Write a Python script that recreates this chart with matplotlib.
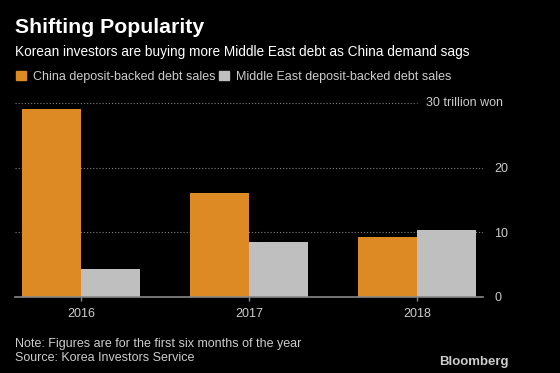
import numpy as np
import matplotlib.pyplot as plt

years = ['2016', '2017', '2018']
china = [29.0, 16.0, 9.2]
middle_east = [4.4, 8.5, 10.3]
yticks = [0, 10, 20, 30]
ytick_labels = ['0', '10', '20', '30 trillion won']

orange = '#dd8a24'
grey = '#bfbfbf'
txt = '#cccccc'

plt.rcParams['font.family'] = ['Liberation Sans', 'DejaVu Sans']

fig = plt.figure(figsize=(5.6, 3.73), dpi=100, facecolor='black')
ax = fig.add_axes([0.0268, 0.2038, 0.8357, 0.529], facecolor='black')

x = np.arange(len(years))
w = 0.352
ax.bar(x - w / 2, china, w, color=orange, zorder=2)
ax.bar(x + w / 2, middle_east, w, color=grey, zorder=2)

ax.set_xlim(-0.393, 2.393)
ax.set_ylim(0, 30.5)
ax.set_xticks(x)
ax.set_xticklabels(years)
ax.yaxis.tick_right()
ax.set_yticks(yticks)
# top label is right-aligned with the unit, placed separately
ax.set_yticklabels(ytick_labels[:-1] + [''])
ax.text(1.0427, yticks[-1], ytick_labels[-1], transform=ax.get_yaxis_transform(),
        ha='right', va='center', color=txt, fontsize=9)
ax.tick_params(axis='y', length=0, pad=8, labelsize=9)
ax.tick_params(axis='x', length=3, width=1, color='#888888', labelsize=9, pad=5)
for lab in ax.get_xticklabels() + ax.get_yticklabels():
    lab.set_color(txt)

for v in yticks[1:]:
    xmax = 0.859 if v == 30 else 1.0
    ax.axhline(v, xmin=0, xmax=xmax, color='#808080', lw=0.8, ls=(0, (1, 1.8)), zorder=1)

for s in ['top', 'right', 'left']:
    ax.spines[s].set_visible(False)
ax.spines['bottom'].set_color('#888888')
ax.spines['bottom'].set_linewidth(1.2)

fig.text(0.027, 1 - 33 / 373, 'Shifting Popularity', color='white', fontsize=15.3,
         fontweight='bold', va='baseline')
fig.text(0.027, 1 - 56 / 373, 'Korean investors are buying more Middle East debt as China demand sags',
         color='white', fontsize=9.8, va='baseline')

# legend
fig.patches.append(plt.Rectangle((16 / 560, 1 - 80 / 373), 10 / 560, 9 / 373,
                                 transform=fig.transFigure, color=orange))
fig.text(33 / 560, 1 - 80 / 373, 'China deposit-backed debt sales', color=txt,
         fontsize=9, va='baseline')
fig.patches.append(plt.Rectangle((219 / 560, 1 - 80 / 373), 10 / 560, 9 / 373,
                                 transform=fig.transFigure, color=grey))
fig.text(236 / 560, 1 - 80 / 373, 'Middle East deposit-backed debt sales', color=txt,
         fontsize=9, va='baseline')

fig.text(0.027, 1 - 347 / 373, 'Note: Figures are for the first six months of the year',
         color=txt, fontsize=9, va='baseline')
fig.text(0.027, 1 - 361 / 373, 'Source: Korea Investors Service',
         color=txt, fontsize=9, va='baseline')
fig.text(509 / 560, 1 - 365 / 373, 'Bloomberg', color=txt, fontsize=9.5,
         fontweight='bold', ha='right', va='baseline')

fig.savefig('out.png', dpi=100, facecolor='black')
